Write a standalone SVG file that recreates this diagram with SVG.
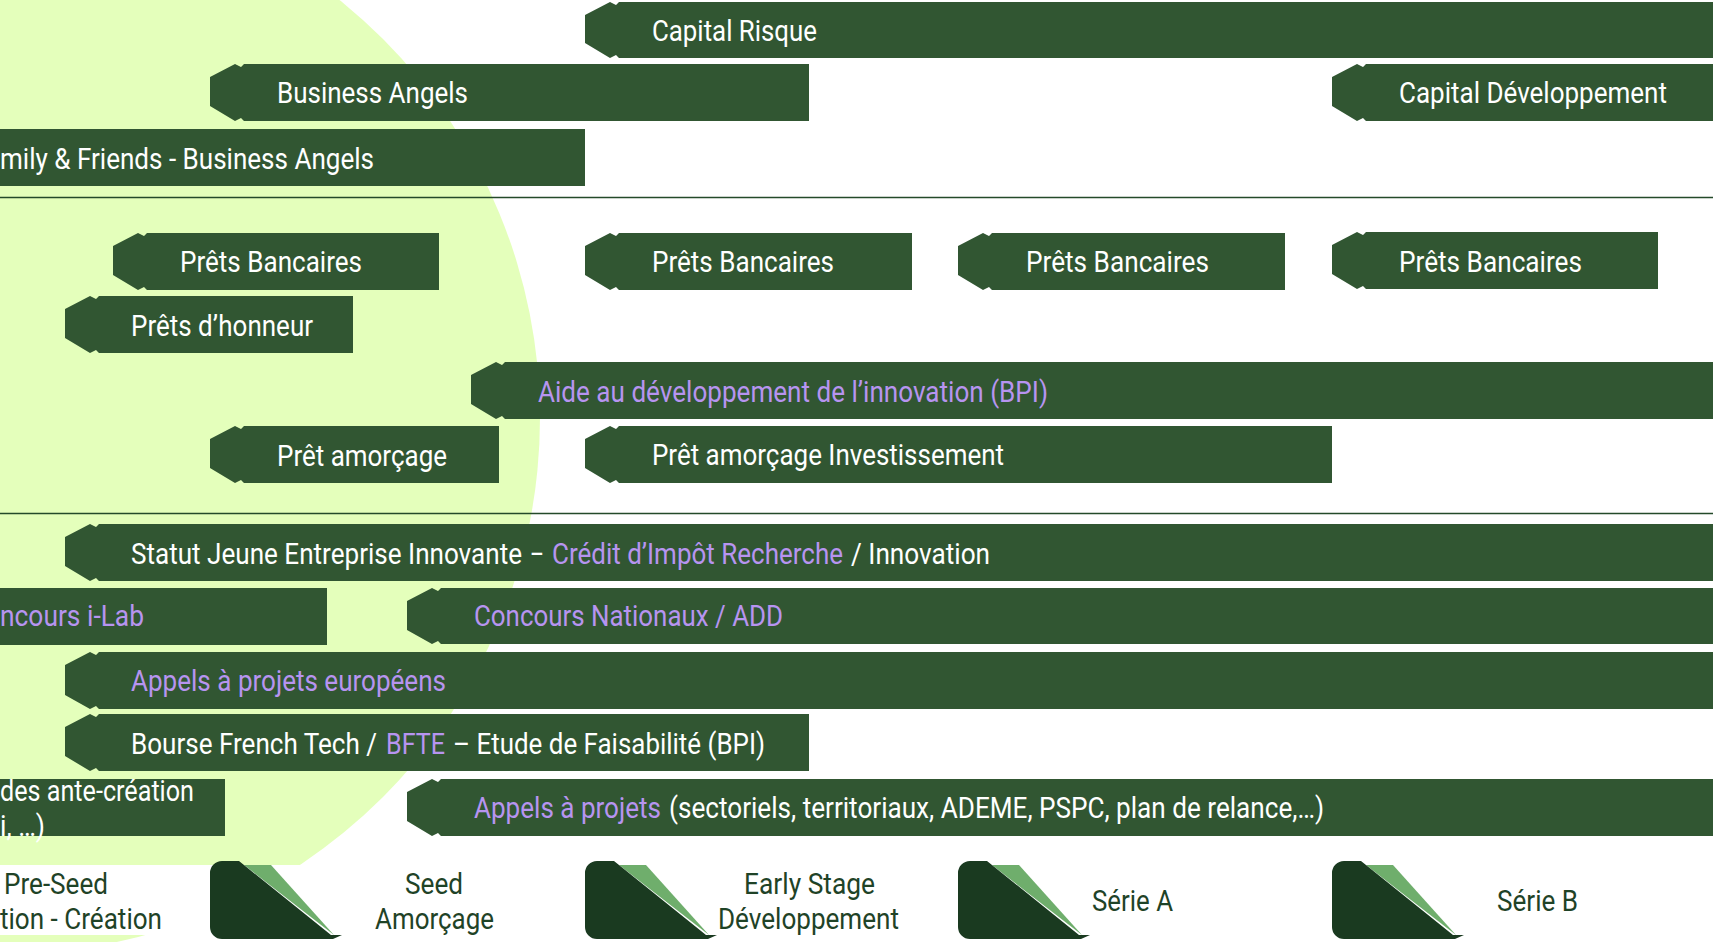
<svg xmlns="http://www.w3.org/2000/svg" width="1713" height="942" viewBox="0 0 1713 942">
<style>
.b{fill:#315632}
.t{font-family:Roboto,"Liberation Sans",sans-serif;font-size:30px;fill:#fff}
.p{fill:#b794f0}
.d{fill:#1a3a20}
.l{fill:#6fae6c}
.k{font-family:Roboto,"Liberation Sans",sans-serif;font-size:30px;fill:#1f4327}
.r{stroke:#244a2a;stroke-width:1.6;fill:none}
</style>
<defs>
<path id="leg" class="d" d="M0 873a12 12 0 0 1 12-12h17l92 74h11l-9 4H12a12 12 0 0 1-12-12z"/>
<path id="tri" class="l" d="M34 865h27l63 70z"/>
</defs>
<rect width="1713" height="942" fill="#fff"/>
<circle cx="4" cy="418" r="536" fill="#e4ffbb"/>
<rect x="0" y="865" width="1713" height="70" fill="#fff"/>
<g id="connectors">
<line class="r" x1="0" y1="197.500" x2="1713" y2="197.500"/>
<line class="r" x1="0" y1="513.500" x2="1713" y2="513.500"/>
</g>
<g id="n1"><path class="b" d="M585 15L610 2l6 3 3-3H1713V58H619l-3-3-6 3L585 43z"/><text class="t" x="652" y="41" textLength="165" lengthAdjust="spacingAndGlyphs">Capital Risque</text></g>
<g id="n2"><path class="b" d="M210 77L235 64l6 3 3-3H809V121H244l-3-3-6 3L210 106z"/><text class="t" x="277" y="103" textLength="191" lengthAdjust="spacingAndGlyphs">Business Angels</text></g>
<g id="n3"><path class="b" d="M1332 77L1357 64l6 3 3-3H1713V121H1366l-3-3-6 3L1332 106z"/><text class="t" x="1399" y="103" textLength="268" lengthAdjust="spacingAndGlyphs">Capital Développement</text></g>
<g id="n4"><rect class="b" x="0" y="129" width="585" height="57"/><text class="t" x="0" y="169" textLength="374" lengthAdjust="spacingAndGlyphs">mily &amp; Friends - Business Angels</text></g>
<g id="n5"><path class="b" d="M113 246L138 233l6 3 3-3H439V290H147l-3-3-6 3L113 275z"/><text class="t" x="180" y="272" textLength="182" lengthAdjust="spacingAndGlyphs">Prêts Bancaires</text></g>
<g id="n6"><path class="b" d="M585 246L610 233l6 3 3-3H912V290H619l-3-3-6 3L585 275z"/><text class="t" x="652" y="272" textLength="182" lengthAdjust="spacingAndGlyphs">Prêts Bancaires</text></g>
<g id="n7"><path class="b" d="M958 246L983 233l6 3 3-3H1285V290H992l-3-3-6 3L958 275z"/><text class="t" x="1026" y="272" textLength="183" lengthAdjust="spacingAndGlyphs">Prêts Bancaires</text></g>
<g id="n8"><path class="b" d="M1332 245L1357 232l6 3 3-3H1658V289H1366l-3-3-6 3L1332 274z"/><text class="t" x="1399" y="272" textLength="183" lengthAdjust="spacingAndGlyphs">Prêts Bancaires</text></g>
<g id="n9"><path class="b" d="M65 309L90 296l6 3 3-3H353V353H99l-3-3-6 3L65 338z"/><text class="t" x="131" y="336" textLength="182" lengthAdjust="spacingAndGlyphs">Prêts d’honneur</text></g>
<g id="n10"><path class="b" d="M471 375L496 362l6 3 3-3H1713V419H505l-3-3-6 3L471 404z"/><text class="t p" x="538" y="402" textLength="510" lengthAdjust="spacingAndGlyphs">Aide au développement de l’innovation (BPI)</text></g>
<g id="n11"><path class="b" d="M210 439L235 426l6 3 3-3H499V483H244l-3-3-6 3L210 468z"/><text class="t" x="277" y="466" textLength="170" lengthAdjust="spacingAndGlyphs">Prêt amorçage</text></g>
<g id="n12"><path class="b" d="M585 439L610 426l6 3 3-3H1332V483H619l-3-3-6 3L585 468z"/><text class="t" x="652" y="465" textLength="352" lengthAdjust="spacingAndGlyphs">Prêt amorçage Investissement</text></g>
<g id="n13"><path class="b" d="M65 537L90 524l6 3 3-3H1713V581H99l-3-3-6 3L65 566z"/><text class="t" x="131" y="564" textLength="391" lengthAdjust="spacingAndGlyphs">Statut Jeune Entreprise Innovante</text><text class="t" x="530" y="564" textLength="14" lengthAdjust="spacingAndGlyphs">–</text><text class="t p" x="552" y="564" textLength="291" lengthAdjust="spacingAndGlyphs">Crédit d’Impôt Recherche</text><text class="t" x="851" y="564" textLength="139" lengthAdjust="spacingAndGlyphs">/ Innovation</text></g>
<g id="n14"><rect class="b" x="0" y="588" width="327" height="57"/><text class="t p" x="0" y="626" textLength="144" lengthAdjust="spacingAndGlyphs">ncours i-Lab</text></g>
<g id="n15"><path class="b" d="M407 601L432 588l6 3 3-3H1713V644H441l-3-3-6 3L407 630z"/><text class="t p" x="474" y="626" textLength="309" lengthAdjust="spacingAndGlyphs">Concours Nationaux / ADD</text></g>
<g id="n16"><path class="b" d="M65 665L90 652l6 3 3-3H1713V709H99l-3-3-6 3L65 695z"/><text class="t p" x="131" y="691" textLength="315" lengthAdjust="spacingAndGlyphs">Appels à projets européens</text></g>
<g id="n17"><path class="b" d="M65 727L90 714l6 3 3-3H809V771H99l-3-3-6 3L65 756z"/><text class="t" x="131" y="754" textLength="246" lengthAdjust="spacingAndGlyphs">Bourse French Tech /</text><text class="t p" x="386" y="754" textLength="59" lengthAdjust="spacingAndGlyphs">BFTE</text><text class="t" x="453" y="754" textLength="312" lengthAdjust="spacingAndGlyphs">– Etude de Faisabilité (BPI)</text></g>
<g id="n18"><rect class="b" x="0" y="779" width="225" height="57"/><text class="t" x="0" y="801" textLength="194" lengthAdjust="spacingAndGlyphs">des ante-création</text><text class="t" x="0" y="836" textLength="45" lengthAdjust="spacingAndGlyphs">i, …)</text></g>
<g id="n19"><path class="b" d="M407 792L432 779l6 3 3-3H1713V836H441l-3-3-6 3L407 821z"/><text class="t p" x="474" y="818" textLength="187" lengthAdjust="spacingAndGlyphs">Appels à projets</text><text class="t" x="669" y="818" textLength="655" lengthAdjust="spacingAndGlyphs">(sectoriels, territoriaux, ADEME, PSPC, plan de relance,…)</text></g>
<g id="leg1"><use href="#tri" x="210"/><use href="#leg" x="210"/><text class="k" x="405" y="894" textLength="58" lengthAdjust="spacingAndGlyphs">Seed</text><text class="k" x="375" y="929" textLength="119" lengthAdjust="spacingAndGlyphs">Amorçage</text></g>
<g id="leg2"><use href="#tri" x="585"/><use href="#leg" x="585"/><text class="k" x="744" y="894" textLength="131" lengthAdjust="spacingAndGlyphs">Early Stage</text><text class="k" x="718" y="929" textLength="181" lengthAdjust="spacingAndGlyphs">Développement</text></g>
<g id="leg3"><use href="#tri" x="958"/><use href="#leg" x="958"/><text class="k" x="1092" y="911" textLength="81" lengthAdjust="spacingAndGlyphs">Série A</text></g>
<g id="leg4"><use href="#tri" x="1332"/><use href="#leg" x="1332"/><text class="k" x="1497" y="911" textLength="81" lengthAdjust="spacingAndGlyphs">Série B</text></g>
<g id="leg0"><text class="k" x="4" y="894" textLength="104" lengthAdjust="spacingAndGlyphs">Pre-Seed</text><text class="k" x="0" y="929" textLength="162" lengthAdjust="spacingAndGlyphs">tion - Création</text></g>
</svg>
